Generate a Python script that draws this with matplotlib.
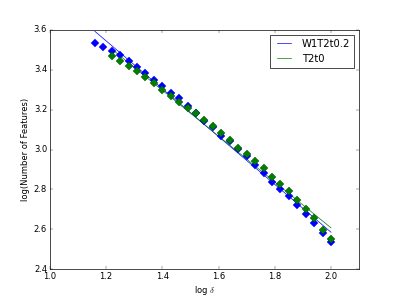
import matplotlib
matplotlib.use("Agg")
import matplotlib.pyplot as plt

plt.style.use("classic")

# log(delta) sample positions
log_delta = [1.16, 1.19, 1.22, 1.25, 1.28, 1.31, 1.34, 1.37, 1.40, 1.43,
             1.46, 1.49, 1.52, 1.55, 1.58, 1.61, 1.64, 1.67, 1.70, 1.73,
             1.76, 1.79, 1.82, 1.85, 1.88, 1.91, 1.94, 1.97, 2.00]

# W1T2t0.2 measured points
w1_features = [3.536, 3.516, 3.496, 3.474, 3.446, 3.413, 3.386, 3.351, 3.320, 3.285,
               3.257, 3.217, 3.182, 3.145, 3.111, 3.069, 3.043, 3.004, 2.966, 2.924,
               2.880, 2.838, 2.800, 2.767, 2.720, 2.678, 2.629, 2.579, 2.537]

# T2t0 measured points (start at the third delta)
t2_delta = log_delta[2:]
t2_features = [3.471, 3.443, 3.421, 3.393, 3.366, 3.334, 3.300, 3.270, 3.240,
               3.210, 3.182, 3.148, 3.118, 3.083, 3.046, 3.009, 2.979, 2.942,
               2.909, 2.863, 2.825, 2.790, 2.746, 2.701, 2.655, 2.596, 2.549]

# fitted lines (end points)
w1_fit_x = [1.16, 2.00]
w1_fit_y = [3.593, 2.585]
t2_fit_x = [1.22, 2.00]
t2_fit_y = [3.504, 2.607]

fig = plt.figure(figsize=(7.98, 5.98), dpi=50)
ax = fig.add_subplot(111)

ax.plot(w1_fit_x, w1_fit_y, color="b", label="W1T2t0.2")
ax.plot(t2_fit_x, t2_fit_y, color="g", label="T2t0")
ax.plot(log_delta, w1_features, "D", color="b", markersize=8,
        markeredgecolor="b", markeredgewidth=0.5)
ax.plot(t2_delta, t2_features, "D", color="g", markersize=8,
        markeredgecolor="#004000", markeredgewidth=0.5)

ax.set_xlim(1.0, 2.1)
ax.set_ylim(2.4, 3.6)
ax.set_xticks([1.0, 1.2, 1.4, 1.6, 1.8, 2.0])
ax.set_xlabel(r"log $\delta$")
ax.set_ylabel("log(Number of Features)")
ax.legend(loc="upper right")

fig.savefig("out.png", dpi=50)
